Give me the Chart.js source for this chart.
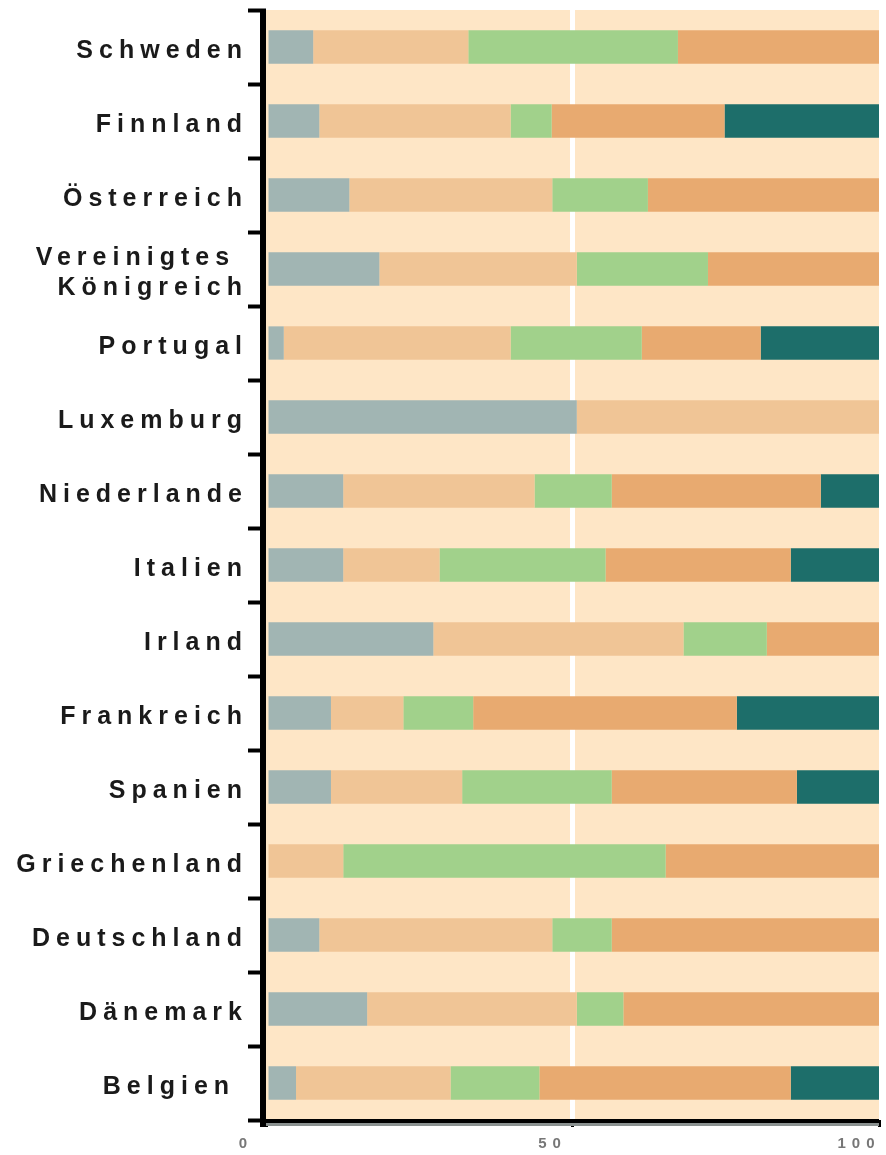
<!DOCTYPE html>
<html>
<head>
<meta charset="utf-8">
<script src="https://cdn.jsdelivr.net/npm/chart.js@4/dist/chart.umd.min.js"></script>
<style>
  html, body { margin: 0; padding: 0; background: #fff; }
  #wrap { width: 886px; height: 1155px; }
</style>
</head>
<body>
<div id="wrap"><canvas id="chart"></canvas></div>
<script>
// countries, top to bottom
const countries = [
  'Schweden', 'Finnland', 'Österreich', ['Vereinigtes ', 'Königreich'], 'Portugal',
  'Luxemburg', 'Niederlande', 'Italien', 'Irland', 'Frankreich',
  'Spanien', 'Griechenland', 'Deutschland', 'Dänemark', 'Belgien '
];

// shares in percent
const series1 = [7.7, 8.7, 13.6, 18.5, 2.9, 50.7, 12.6, 12.6, 27.3, 10.6, 10.6, 0, 8.7, 16.5, 4.9];
const series2 = [25.3, 31.2, 33.1, 32.2, 37.0, 49.3, 31.2, 15.7, 40.8, 11.8, 21.4, 12.6, 38.0, 34.2, 25.2];
const series3 = [34.2, 6.7, 15.6, 21.4, 21.4, 0, 12.6, 27.1, 13.6, 11.4, 24.4, 52.6, 9.7, 7.6, 14.5];
const series4 = [32.8, 28.2, 37.7, 27.9, 19.4, 0, 34.1, 30.2, 18.3, 43.0, 30.2, 34.8, 43.6, 41.7, 41.0];
const series5 = [0, 25.2, 0, 0, 19.3, 0, 9.5, 14.4, 0, 23.2, 13.4, 0, 0, 0, 14.4];

const xTicks = [0, 50, 100];

const colors = ['#a1b5b3', '#f0c596', '#a1d18b', '#e8aa70', '#1d6e6a'];

// peach plot background + axis lines
const frame = {
  id: 'frame',
  beforeDraw(chart) {
    const { ctx, chartArea: a } = chart;
    ctx.letterSpacing = '6px';
    ctx.save();
    ctx.fillStyle = '#fee6c6';
    ctx.fillRect(a.left, a.top, a.right - a.left, a.bottom - a.top);
    ctx.restore();
  },
  afterDatasetsDraw(chart) {
    const { ctx, chartArea: a } = chart;
    ctx.save();
    ctx.fillStyle = '#000';
    ctx.fillRect(a.left - 6, a.top, 6, a.bottom - a.top + 7);
    ctx.fillRect(a.left - 6, a.bottom - 1, a.right - a.left + 6, 4);
    ctx.fillStyle = '#8a9190';
    ctx.fillRect(a.left, a.bottom + 3, a.right - a.left, 3);
    ctx.restore();
  }
};

const datasets = [series1, series2, series3, series4, series5].map(function(data, i) {
  return {
    label: 'Reihe ' + (i + 1),
    data: data,
    backgroundColor: colors[i],
    borderWidth: 0,
    barPercentage: 0.45,
    categoryPercentage: 1
  };
});

new Chart(document.getElementById('chart'), {
  type: 'bar',
  data: { labels: countries, datasets: datasets },
  options: {
    indexAxis: 'y',
    responsive: true,
    maintainAspectRatio: false,
    animation: false,
    layout: { padding: { top: 10, right: 7, left: 0, bottom: 0 } },
    plugins: { legend: { display: false }, tooltip: { enabled: false } },
    scales: {
      x: {
        stacked: true,
        min: 0,
        max: 100,
        afterBuildTicks(scale) {
          scale.ticks = xTicks.map(function(v) { return { value: v }; });
        },
        afterFit(scale) {
          scale.height = 35;
          scale.paddingLeft = 0;
          scale.paddingRight = 0;
        },
        border: { display: false },
        grid: {
          color: function(ctx) { return ctx.tick && ctx.tick.value === 50 ? '#ffffff' : 'rgba(0,0,0,0)'; },
          lineWidth: 5,
          tickColor: '#000',
          tickLength: 7,
          tickWidth: 3
        },
        ticks: {
          color: '#777',
          font: { family: 'Liberation Sans, Arial, sans-serif', size: 15, weight: 'bold' },
          padding: 8,
          labelOffset: -20,
          maxRotation: 0
        }
      },
      y: {
        stacked: true,
        afterFit(scale) {
          scale.width = 266;
          scale.paddingTop = 0;
          scale.paddingBottom = 0;
        },
        border: { display: false },
        grid: {
          drawOnChartArea: false,
          tickColor: '#000',
          tickLength: 18,
          tickWidth: 4
        },
        ticks: {
          color: '#1a1a1a',
          font: { family: 'Liberation Sans, Arial, sans-serif', size: 25, weight: 'bold', lineHeight: 1.2 },
          padding: 0,
          labelOffset: 4,
          autoSkip: false
        }
      }
    }
  },
  plugins: [frame]
});
</script>
</body>
</html>
